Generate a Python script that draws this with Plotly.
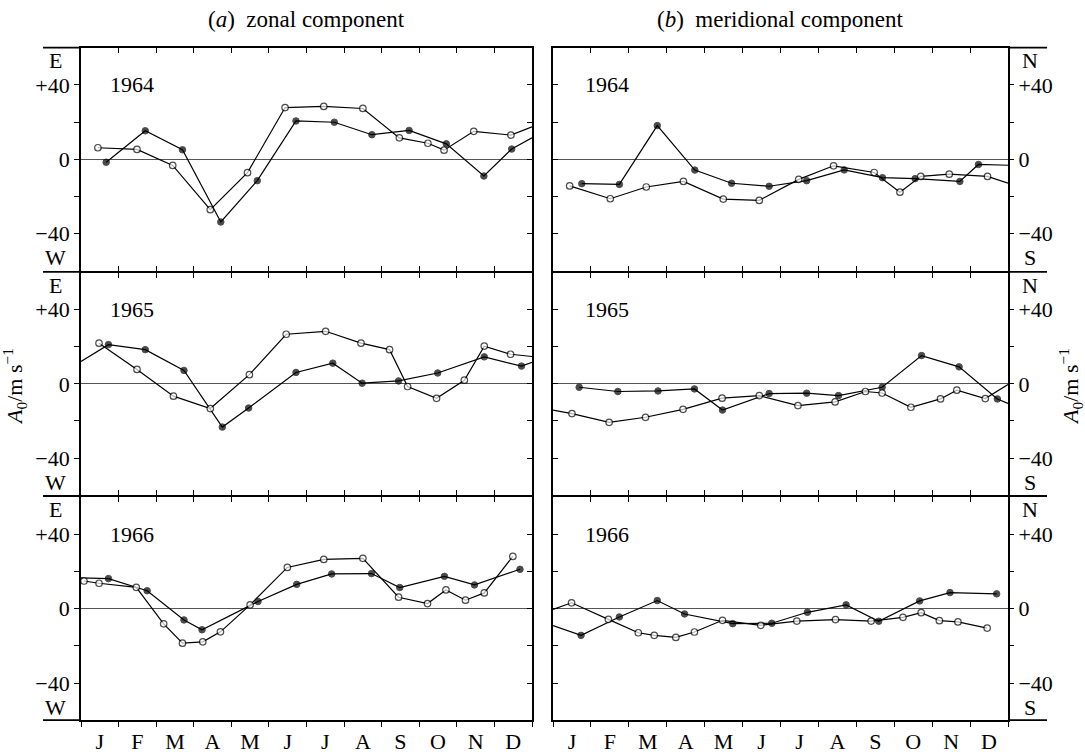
import plotly.graph_objects as go

# ---------------- data ----------------
MONTHS = ["J", "F", "M", "A", "M", "J", "J", "A", "S", "O", "N", "D"]
YEARS = ["1964", "1965", "1966"]
COLUMN_TITLES = ["(<i>a</i>)  zonal component", "(<i>b</i>)  meridional component"]
Y_TICKVALS = [-40, 0, 40]
Y_TICKTEXT = ["\u221240", "0", "+40"]
Y_MINORVALS = [-20, 20]
LEFT_DIRS = ["E", "W"]
RIGHT_DIRS = ["N", "S"]
Y_TITLE = "<i>A</i><sub>0</sub>/m s<sup>\u22121</sup>"

# x in months from start of January (0..12); values in m/s
ZON1964_OPEN_X = [0.45, 1.49, 2.44, 3.44, 4.43, 5.43, 6.46, 7.50, 8.47, 9.23, 9.66, 10.45, 11.44, 12.0]
ZON1964_OPEN_V = [6.2, 5.3, -3.3, -27.1, -7.2, 27.8, 28.4, 27.3, 11.5, 8.6, 4.9, 15.0, 13.0, 17.4]
ZON1964_FILL_X = [0.67, 1.71, 2.70, 3.72, 4.69, 5.72, 6.74, 7.74, 8.73, 9.72, 10.72, 11.46, 12.0]
ZON1964_FILL_V = [-1.6, 15.3, 5.1, -33.7, -11.5, 20.6, 19.9, 13.2, 15.5, 8.3, -9.0, 5.5, 11.5]

ZON1965_OPEN_X = [0.48, 1.49, 2.46, 3.44, 4.48, 5.46, 6.51, 7.45, 8.21, 8.69, 9.46, 10.20, 10.73, 11.43, 12.0]
ZON1965_OPEN_V = [22.0, 7.8, -6.6, -13.3, 5.0, 26.8, 28.4, 22.0, 18.5, -1.4, -7.8, 2.0, 20.4, 16.0, 14.8]
ZON1965_FILL_X = [0.0, 0.73, 1.71, 2.74, 3.76, 4.46, 5.72, 6.70, 7.48, 8.45, 9.49, 10.73, 11.72, 12.0]
ZON1965_FILL_V = [12.1, 21.2, 18.5, 7.3, -23.3, -13.0, 6.2, 11.2, 0.4, 1.6, 5.9, 14.6, 9.6, 11.6]

ZON1966_OPEN_X = [0.08, 0.48, 1.47, 2.20, 2.70, 3.24, 3.71, 4.50, 5.49, 6.46, 7.50, 8.45, 9.22, 9.71, 10.23, 10.73, 11.49]
ZON1966_OPEN_V = [14.8, 13.6, 11.4, -8.2, -18.6, -17.9, -12.5, 2.0, 22.1, 26.4, 27.0, 6.1, 2.7, 10.0, 4.5, 8.4, 28.0]
ZON1966_FILL_X = [0.0, 0.73, 1.76, 2.74, 3.22, 4.71, 5.74, 6.67, 7.73, 8.48, 9.67, 10.47, 11.68]
ZON1966_FILL_V = [16.5, 16.1, 9.6, -6.1, -11.4, 3.8, 13.0, 18.6, 18.8, 11.3, 17.3, 12.7, 21.1]

MER1964_OPEN_X = [0.44, 1.51, 2.46, 3.44, 4.49, 5.44, 6.48, 7.40, 8.47, 9.15, 9.70, 10.45, 11.46, 12.0]
MER1964_OPEN_V = [-14.3, -21.2, -14.9, -11.9, -21.4, -22.1, -10.8, -3.5, -7.1, -17.7, -9.2, -8.0, -9.2, -12.8]
MER1964_FILL_X = [0.76, 1.75, 2.75, 3.74, 4.71, 5.70, 6.69, 7.68, 8.69, 9.55, 10.73, 11.22, 12.0]
MER1964_FILL_V = [-13.1, -13.5, 18.1, -5.8, -12.9, -14.5, -11.5, -5.7, -9.9, -10.4, -11.9, -2.8, -3.2]

MER1965_OPEN_X = [0.0, 0.50, 1.48, 2.44, 3.43, 4.46, 5.44, 6.46, 7.44, 8.24, 8.68, 9.44, 10.22, 10.65, 11.40, 12.0]
MER1965_OPEN_V = [-14.1, -16.0, -20.7, -18.0, -13.7, -7.7, -6.3, -11.7, -9.7, -4.1, -4.9, -12.6, -8.1, -3.4, -7.9, -0.3]
MER1965_FILL_X = [0.69, 1.71, 2.77, 3.73, 4.47, 5.70, 6.69, 7.53, 8.68, 9.72, 10.71, 11.72, 12.0]
MER1965_FILL_V = [-1.8, -4.1, -3.8, -2.7, -14.1, -5.2, -5.0, -6.3, -1.8, 15.3, 9.2, -8.1, -10.5]

MER1966_OPEN_X = [0.0, 0.49, 1.46, 2.25, 2.67, 3.24, 3.73, 4.47, 5.48, 6.43, 7.45, 8.39, 9.23, 9.71, 10.19, 10.68, 11.45]
MER1966_OPEN_V = [-0.5, 3.1, -5.8, -13.0, -14.4, -15.5, -12.6, -6.3, -9.0, -6.7, -5.9, -6.7, -4.7, -2.2, -6.5, -7.2, -10.5]
MER1966_FILL_X = [0.0, 0.74, 1.75, 2.75, 3.47, 4.74, 5.77, 6.71, 7.73, 8.59, 9.67, 10.47, 11.70]
MER1966_FILL_V = [-9.2, -14.4, -4.5, 4.3, -2.9, -8.1, -7.9, -2.0, 2.0, -6.8, 4.1, 8.6, 7.9]

PANELS = [
    [(ZON1964_OPEN_X, ZON1964_OPEN_V, ZON1964_FILL_X, ZON1964_FILL_V),
     (MER1964_OPEN_X, MER1964_OPEN_V, MER1964_FILL_X, MER1964_FILL_V)],
    [(ZON1965_OPEN_X, ZON1965_OPEN_V, ZON1965_FILL_X, ZON1965_FILL_V),
     (MER1965_OPEN_X, MER1965_OPEN_V, MER1965_FILL_X, MER1965_FILL_V)],
    [(ZON1966_OPEN_X, ZON1966_OPEN_V, ZON1966_FILL_X, ZON1966_FILL_V),
     (MER1966_OPEN_X, MER1966_OPEN_V, MER1966_FILL_X, MER1966_FILL_V)],
]

# ---------------- layout geometry ----------------
W, H = 1085, 754
FONT = "'Liberation Serif', 'DejaVu Serif', serif"


def fx(p):
    return p / W


def fy(p):
    return 1 - p / H


LINE_W = 1.2
MSIZE = 6.5
TICKLEN = 5
TICKW = 1.4
FRAME_W = 1.8
TXT = dict(family=FONT, size=22, color="black")

X_PIX = [(81, 532), (553, 1008)]
ROW_BOUNDS = [48, 274, 500, 726]
# inner separators: shift domains so the two frame lines coincide
Y_PIX = []
for i in range(3):
    top = ROW_BOUNDS[i] + (FRAME_W / 2 if i > 0 else 0)
    bot = ROW_BOUNDS[i + 1] - (FRAME_W / 2 if i < 2 else 0)
    Y_PIX.append((top, bot))


def axname(prefix, n):
    return prefix if n == 1 else f"{prefix}{n}"


def laykey(prefix, n):
    return f"{prefix}axis" if n == 1 else f"{prefix}axis{n}"


fig = go.Figure()
layout = {}
annotations = []
shapes = []


def minor(ticks):
    return dict(tickvals=Y_MINORVALS, ticks=ticks, ticklen=TICKLEN,
                tickwidth=TICKW, tickcolor="black", showgrid=False)


def sizes(xs):
    return [0 if (v <= 0.0 or v >= 12.0) else MSIZE for v in xs]


for r in range(3):
    for c in range(2):
        k = r * 2 + c
        n = k + 1
        xa, ya = axname("x", n), axname("y", n)
        ox, ov, fxs, fvs = PANELS[r][c]

        fig.add_trace(go.Scatter(
            x=fxs, y=fvs, mode="lines+markers", xaxis=xa, yaxis=ya,
            line=dict(color="black", width=LINE_W),
            marker=dict(symbol="circle", size=sizes(fxs), color="black",
                        line=dict(color="black", width=1)),
            showlegend=False, hoverinfo="skip"))
        fig.add_trace(go.Scatter(
            x=ox, y=ov, mode="lines+markers", xaxis=xa, yaxis=ya,
            line=dict(color="black", width=LINE_W),
            marker=dict(symbol="circle", size=sizes(ox), color="white",
                        line=dict(color="black", width=1.2)),
            showlegend=False, hoverinfo="skip"))

        xdom = [fx(X_PIX[c][0]), fx(X_PIX[c][1])]
        ydom = [fy(Y_PIX[r][1]), fy(Y_PIX[r][0])]

        xaxis = dict(domain=xdom, range=[0, 12], anchor=ya, showline=True,
                     linecolor="black", linewidth=FRAME_W, tickvals=list(range(13)),
                     ticklen=TICKLEN, tickwidth=TICKW, tickcolor="black",
                     showticklabels=False, showgrid=False, zeroline=False,
                     fixedrange=True)
        if r < 2:
            xaxis.update(ticks="inside", mirror="ticks")
        else:
            xaxis.update(ticks="outside", mirror=True)
        layout[laykey("x", n)] = xaxis

        yaxis = dict(domain=ydom, range=[-60, 60], anchor=xa, showline=True,
                     linecolor="black", linewidth=FRAME_W, mirror=True,
                     tickvals=Y_TICKVALS, ticktext=Y_TICKTEXT,
                     ticklen=TICKLEN, tickwidth=TICKW, tickcolor="black",
                     showgrid=False, zeroline=True, zerolinecolor="#555555",
                     zerolinewidth=1, tickfont=TXT, fixedrange=True)
        if c == 0:
            yaxis.update(ticks="outside", showticklabels=True, minor=minor("outside"))
        else:
            yaxis.update(ticks="inside", showticklabels=False, minor=minor("inside"))
        layout[laykey("y", n)] = yaxis

        # overlay y axis on the right side of the panel
        m = 7 + k
        oy = dict(overlaying=ya, anchor=xa, side="right", range=[-60, 60],
                  tickvals=Y_TICKVALS, ticktext=Y_TICKTEXT, ticklen=TICKLEN,
                  tickwidth=TICKW, tickcolor="black", showline=False,
                  showgrid=False, zeroline=False, tickfont=TXT, fixedrange=True)
        if c == 0:
            oy.update(ticks="inside", showticklabels=False, minor=minor("inside"))
        else:
            oy.update(ticks="outside", showticklabels=True, minor=minor("outside"))
        layout[laykey("y", m)] = oy
        fig.add_trace(go.Scatter(x=[None], y=[None], xaxis=xa, yaxis=axname("y", m),
                                 showlegend=False, hoverinfo="skip"))

        if r == 2:
            # top ticks (pointing down) and month labels
            mt = 7 + c
            ml = 9 + c
            layout[laykey("x", mt)] = dict(
                overlaying=xa, anchor=ya, side="top", range=[0, 12],
                tickvals=list(range(13)), ticks="inside", ticklen=TICKLEN,
                tickwidth=TICKW, tickcolor="black", showticklabels=False,
                showline=False, showgrid=False, zeroline=False, fixedrange=True)
            layout[laykey("x", ml)] = dict(
                overlaying=xa, anchor=ya, side="bottom", range=[0, 12],
                tickvals=[i + 0.5 for i in range(12)], ticktext=MONTHS,
                ticks="", showline=False, showgrid=False, zeroline=False,
                tickfont=TXT, ticklabelstandoff=6, fixedrange=True)
            fig.add_trace(go.Scatter(x=[None], y=[None], xaxis=axname("x", mt), yaxis=ya,
                                     showlegend=False, hoverinfo="skip"))
            fig.add_trace(go.Scatter(x=[None], y=[None], xaxis=axname("x", ml), yaxis=ya,
                                     showlegend=False, hoverinfo="skip"))

        # year label
        annotations.append(dict(
            text=YEARS[r], xref=xa, yref=ya, x=0.72 if c == 0 else 0.78, y=40,
            xanchor="left", yanchor="middle", showarrow=False, font=TXT))
        # direction letters
        dirs = LEFT_DIRS if c == 0 else RIGHT_DIRS
        dx = 55 if c == 0 else 1030
        for letter, yv in zip(dirs, [53, -53]):
            annotations.append(dict(
                text=letter, xref="paper", yref=ya, x=fx(dx), y=yv,
                xanchor="center", yanchor="middle", showarrow=False, font=TXT))

# column titles
for c, t in enumerate(COLUMN_TITLES):
    annotations.append(dict(
        text=t, xref="paper", yref="paper", x=fx((X_PIX[c][0] + X_PIX[c][1]) / 2),
        y=fy(20), xanchor="center", yanchor="middle", showarrow=False,
        font=dict(family=FONT, size=23, color="black")))

# axis titles
for xp in (15, 1071):
    annotations.append(dict(
        text=Y_TITLE, xref="paper", yref="paper", x=fx(xp), y=fy(390),
        xanchor="center", yanchor="middle", textangle=-90, showarrow=False,
        font=TXT))

# frame extensions of horizontal separators
for yp in ROW_BOUNDS:
    shapes.append(dict(type="line", xref="paper", yref="paper",
                       x0=fx(43), x1=fx(81), y0=fy(yp), y1=fy(yp),
                       line=dict(color="black", width=FRAME_W)))
    shapes.append(dict(type="line", xref="paper", yref="paper",
                       x0=fx(1008), x1=fx(1047), y0=fy(yp), y1=fy(yp),
                       line=dict(color="black", width=FRAME_W)))

fig.update_layout(
    width=W, height=H, margin=dict(l=0, r=0, t=0, b=0),
    paper_bgcolor="white", plot_bgcolor="white",
    font=TXT, annotations=annotations, shapes=shapes, showlegend=False,
    **layout)

fig.write_html("out.html")
